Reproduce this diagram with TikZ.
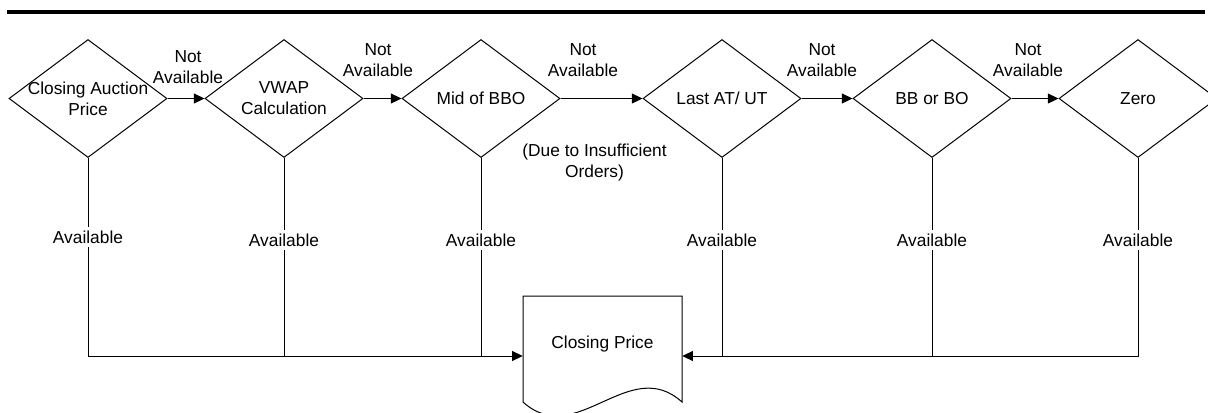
\documentclass[tikz,border=0pt]{standalone}
\usepackage{fontspec}
\setmainfont{Liberation Sans}
\usetikzlibrary{shapes.geometric,arrows.meta}
\begin{document}
\begin{tikzpicture}[x=0.75pt,y=-0.75pt,
  every node/.style={font=\fontsize{13pt}{15.75pt}\selectfont},
  conn/.style={line width=0.75pt, draw=black},
  arr/.style={conn, -{Triangle[length=8pt,width=7.5pt]}},
  dia/.style={diamond, draw, line width=0.75pt, inner sep=0pt, minimum width=118.5pt, minimum height=88.5pt},
  dtext/.style={align=center, inner sep=0pt},
  natext/.style={align=center, inner sep=0pt},
  avtext/.style={fill=white, inner xsep=1pt, inner ysep=3pt},
  docbox/.style={rectangle, inner sep=0pt, minimum width=119.25pt, minimum height=90pt}
]
\useasboundingbox (0,0) rectangle (1208,412);
% top rule
\coordinate (r1) at (7,12);
\coordinate (r2) at (1205,12);
\draw[line width=3pt] (r1) -- (r2);

% decision diamonds
\node[dia, label={[dtext]center:Closing Auction\\Price}] (d1) at (88,98.5) {};
\node[dia, label={[dtext]center:VWAP\\Calculation}] (d2) at (284,98.5) {};
\node[dia, label={[dtext]center:Mid of BBO}] (d3) at (481,98.5) {};
\node[dia, label={[dtext]center:Last AT/ UT}] (d4) at (722,98.5) {};
\node[dia, label={[dtext]center:BB or BO}] (d5) at (932,98.5) {};
\node[dia, label={[dtext]center:Zero}] (d6) at (1138,98.5) {};

% closing price document
\node[docbox] (cp) at (602.5,356) {\raisebox{6pt}[0pt][0pt]{Closing Price}};
\draw[conn] (523,296) -- (682,296) -- (682,402)
  .. controls (629,354) and (576,450) .. (523,402) -- cycle;

% not available arrows
\draw[arr] (d1.east) -- (d2.west);
\draw[arr] (d2.east) -- (d3.west);
\draw[arr] (d3.east) -- (d4.west);
\draw[arr] (d4.east) -- (d5.west);
\draw[arr] (d5.east) -- (d6.west);

\node[natext] (na1) at (188,67.5) {Not\\Available};
\node[natext] (na2) at (378,60) {Not\\Available};
\node[natext] (na3) at (583,60) {Not\\Available};
\node[natext] (na4) at (822,60) {Not\\Available};
\node[natext] (na5) at (1028,60) {Not\\Available};
\node[natext] (due) at (594.5,162.5) {(Due to Insufficient\\Orders)};

% available connectors
\draw[arr] (d1.south) |- (cp.west);
\draw[conn] (d2.south) -- (d2.south |- cp.west);
\draw[conn] (d3.south) -- (d3.south |- cp.west);
\draw[arr] (d6.south) |- (cp.east);
\draw[conn] (d4.south) -- (d4.south |- cp.east);
\draw[conn] (d5.south) -- (d5.south |- cp.east);

\node[avtext] (a1) at (88,237) {Available};
\node[avtext] (a2) at (284,240) {Available};
\node[avtext] (a3) at (481,240) {Available};
\node[avtext] (a4) at (722,240) {Available};
\node[avtext] (a5) at (932,240) {Available};
\node[avtext] (a6) at (1138,240) {Available};
\end{tikzpicture}
\end{document}
